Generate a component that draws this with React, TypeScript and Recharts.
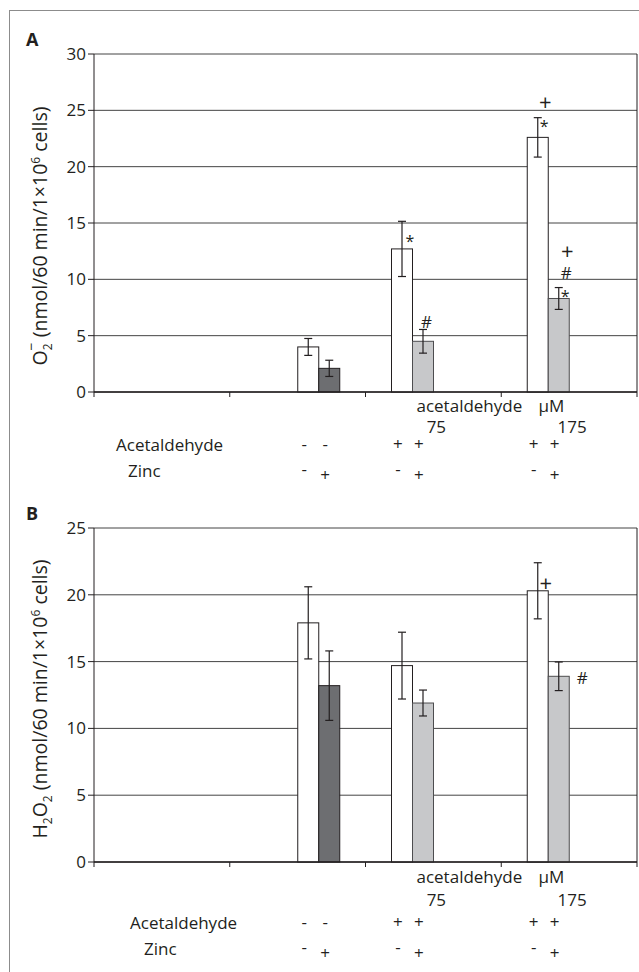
import React from 'react'
import { BarChart, Bar, XAxis, YAxis, CartesianGrid, ErrorBar, Label } from 'recharts'

// x slots: first slot is empty, then control, 75 µM and 175 µM acetaldehyde
const groupPos = [0.5, 1.5, 2.5, 3.5]
const concLabels = ['', '', '75', '175']
const acetSigns = [[], ['-', '-'], ['+', '+'], ['+', '+']]
const zincSigns = [[], ['-', '+'], ['-', '+'], ['-', '+']]
const rowNames = ['Acetaldehyde', 'Zinc']
const unitWord = 'acetaldehyde'
const unitSymbol = 'μM'

// A: superoxide
const o2Plain = [null, 4.0, 12.7, 22.6]
const o2PlainErr = [null, 0.75, 2.45, 1.75]
const o2Zinc = [null, 2.1, 4.5, 8.3]
const o2ZincErr = [null, 0.72, 1.05, 0.97]
const o2PlainMarks = [[], [], ['*'], ['+', '*']]
const o2ZincMarks = [[], [], ['#'], ['+', '#', '*']]
const o2Ticks = [0, 5, 10, 15, 20, 25, 30]

// B: hydrogen peroxide
const h2o2Plain = [null, 17.9, 14.7, 20.3]
const h2o2PlainErr = [null, 2.7, 2.5, 2.1]
const h2o2Zinc = [null, 13.2, 11.9, 13.9]
const h2o2ZincErr = [null, 2.6, 0.97, 1.07]
const h2o2PlainMarks = [[], [], [], ['+']]
const h2o2ZincMarks = [[], [], [], ['#']]
const h2o2Ticks = [0, 5, 10, 15, 20, 25]

const FONT = '"Open Sans", sans-serif'
const INK = '#231f20'
const PLOT_LEFT = 94
const PLOT_RIGHT = 637
const HALF_BAND = (PLOT_RIGHT - PLOT_LEFT) / 8
const BAR = 21
// bar centre offsets inside one slot (4 bars, no gap)
const barOffsets = [-1.5 * BAR, -0.5 * BAR, 0.5 * BAR, 1.5 * BAR]

// where the significance marks sit, relative to the top centre of their bar
const o2MarkPlace: Record<string, number[][]> = {
  'plain-2': [[8, -11]],
  'plain-3': [[7.5, -35], [6.5, -15]],
  'zinc-2': [[3.5, -19]],
  'zinc-3': [[8.5, -47], [7.5, -26], [6.5, -6]],
}
const h2o2MarkPlace: Record<string, number[][]> = {
  'plain-3': [[8, -8]],
  'zinc-3': [[23.5, 2]],
}

const buildRows = (plain: any[], plainErr: any[], zinc: any[], zincErr: any[]) =>
  groupPos.map((x, i) => {
    const ctrl = acetSigns[i][0] === '-'
    return {
      x,
      acet: ctrl ? null : plain[i],
      acetErr: ctrl ? null : plainErr[i],
      acetZn: ctrl ? null : zinc[i],
      acetZnErr: ctrl ? null : zincErr[i],
      ctrl: ctrl ? plain[i] : null,
      ctrlErr: ctrl ? plainErr[i] : null,
      ctrlZn: ctrl ? zinc[i] : null,
      ctrlZnErr: ctrl ? zincErr[i] : null,
    }
  })

// bar rectangle plus its significance marks (*, #, +)
const barShape = (kind: string, marks: string[][], place: Record<string, number[][]>) => (p: any) => {
  const { x, y, width, height, fill, stroke, payload } = p
  if (!height || !width) return <g />
  const idx = groupPos.indexOf(payload?.x)
  const list = marks[idx] || []
  const off = place[`${kind}-${idx}`] || []
  const cx = x + width / 2
  return (
    <g>
      <rect x={x} y={y} width={width} height={height} fill={fill} stroke={stroke} strokeWidth={1} />
      {list.map((m, k) => {
        const [dx, dy] = off[k] || [6, -10 - 20 * k]
        const fs = m === '+' ? 22 : m === '*' ? 16 : 17
        const shift = m === '*' ? 0.58 * fs : 0.36 * fs
        return (
          <text key={k} x={cx + dx} y={y + dy + shift} textAnchor="middle" fontSize={fs} fill={INK} fontFamily={FONT}>
            {m}
          </text>
        )
      })}
    </g>
  )
}

interface AxisLayout {
  unitDy: number
  concDy: number
  acetDy: number
  zincDy: number
  acetX: number
  zincX: number
}

const makeTick = (lay: AxisLayout) => (props: any) => {
  const { x, y, payload } = props
  const i = Math.round(payload.value)
  if (i >= groupPos.length) return <g />
  const axisY = y - 5
  const cx = x + HALF_BAND
  const ctrl = acetSigns[i][0] === '-'
  const centres = ctrl ? [barOffsets[2], barOffsets[3]] : [barOffsets[0], barOffsets[1]]
  const txt = { fontFamily: FONT, fill: INK }
  return (
    <g>
      {i === 0 && (
        <>
          <text x={x + lay.acetX} y={axisY + lay.acetDy} fontSize={17} {...txt}>{rowNames[0]}</text>
          <text x={x + lay.zincX} y={axisY + lay.zincDy} fontSize={17} {...txt}>{rowNames[1]}</text>
        </>
      )}
      {i === 2 && (
        <>
          <text x={cx + 36} y={axisY + lay.unitDy} fontSize={17} textAnchor="middle" {...txt}>{unitWord}</text>
          <text x={cx + 118} y={axisY + lay.unitDy} fontSize={17} textAnchor="middle" {...txt}>{unitSymbol}</text>
        </>
      )}
      {concLabels[i] && (
        <text x={cx + 3} y={axisY + lay.concDy} fontSize={17} textAnchor="middle" {...txt}>{concLabels[i]}</text>
      )}
      {acetSigns[i].map((s, k) => (
        <text key={`a${k}`} x={cx + centres[k] - 4} y={axisY + lay.acetDy - 1} fontSize={17} textAnchor="middle" {...txt}>{s}</text>
      ))}
      {zincSigns[i].map((s, k) => (
        <text key={`z${k}`} x={cx + centres[k] - 4} y={axisY + lay.zincDy + (s === '+' ? 4 : -2)} fontSize={17} textAnchor="middle" {...txt}>{s}</text>
      ))}
    </g>
  )
}

const YTitle = ({ viewBox, shiftY, children }: any) => {
  const cx = 47
  const cy = viewBox.y + viewBox.height / 2 + shiftY
  return (
    <text transform={`rotate(-90 ${cx} ${cy})`} x={cx} y={cy} textAnchor="middle" fontSize={19.5} fill={INK} fontFamily={FONT}>
      {children}
    </text>
  )
}

const o2Title = (
  <>
    <tspan>O</tspan>
    <tspan dy={5} fontSize={12}>2</tspan>
    <tspan dx={-7} dy={-16} fontSize={14}>−</tspan>
    <tspan dy={11}> (nmol/60 min/1×10</tspan>
    <tspan dy={-7} fontSize={12}>6</tspan>
    <tspan dy={7}> cells)</tspan>
  </>
)

const h2o2Title = (
  <>
    <tspan>H</tspan>
    <tspan dy={5} fontSize={12}>2</tspan>
    <tspan dy={-5}>O</tspan>
    <tspan dy={5} fontSize={12}>2</tspan>
    <tspan dy={-5}> (nmol/60 min/1×10</tspan>
    <tspan dy={-7} fontSize={12}>6</tspan>
    <tspan dy={7}> cells)</tspan>
  </>
)

function Panel(props: {
  top: number
  height: number
  marginTop: number
  axisHeight: number
  rows: any[]
  yTicks: number[]
  plainMarks: string[][]
  zincMarks: string[][]
  place: Record<string, number[][]>
  lay: AxisLayout
  title: React.ReactNode
  titleShift: number
}) {
  const { top, height, marginTop, axisHeight, rows, yTicks, plainMarks, zincMarks, place, lay, title, titleShift } = props
  const yMax = yTicks[yTicks.length - 1]
  return (
    <div style={{ position: 'absolute', left: 0, top }}>
      <BarChart
        width={639}
        height={height}
        data={rows}
        margin={{ top: marginTop, right: 1, left: 44, bottom: 0 }}
        barSize={BAR}
        barGap={0}
      >
        <CartesianGrid vertical={false} stroke="#444" strokeWidth={1} />
        <XAxis
          dataKey="x"
          type="number"
          domain={[0, 4]}
          ticks={[0, 1, 2, 3, 4]}
          interval={0}
          height={axisHeight}
          tickSize={5}
          tickMargin={0}
          axisLine={{ stroke: INK, strokeWidth: 1.5 }}
          tickLine={{ stroke: INK }}
          tick={makeTick(lay)}
        />
        <YAxis
          width={50}
          domain={[0, yMax]}
          ticks={yTicks}
          interval={0}
          tickSize={6}
          axisLine={{ stroke: INK }}
          tickLine={{ stroke: INK }}
          tick={{ fontSize: 17, fill: INK, fontFamily: FONT }}
        >
          <Label content={<YTitle shiftY={titleShift}>{title}</YTitle>} />
        </YAxis>
        <YAxis
          yAxisId="right"
          orientation="right"
          width={1}
          domain={[0, yMax]}
          tick={false}
          tickLine={false}
          axisLine={{ stroke: INK }}
        />
        <Bar dataKey="acet" fill="#ffffff" stroke={INK} isAnimationActive={false} shape={barShape('plain', plainMarks, place)}>
          <ErrorBar dataKey="acetErr" width={4} stroke={INK} strokeWidth={1.2} direction="y" />
        </Bar>
        <Bar dataKey="acetZn" fill="#c7c8ca" stroke="#4d4d4f" isAnimationActive={false} shape={barShape('zinc', zincMarks, place)}>
          <ErrorBar dataKey="acetZnErr" width={4} stroke={INK} strokeWidth={1.2} direction="y" />
        </Bar>
        <Bar dataKey="ctrl" fill="#ffffff" stroke={INK} isAnimationActive={false} shape={barShape('plain', plainMarks, place)}>
          <ErrorBar dataKey="ctrlErr" width={4} stroke={INK} strokeWidth={1.2} direction="y" />
        </Bar>
        <Bar dataKey="ctrlZn" fill="#6d6e71" stroke={INK} isAnimationActive={false} shape={barShape('zinc', zincMarks, place)}>
          <ErrorBar dataKey="ctrlZnErr" width={4} stroke={INK} strokeWidth={1.2} direction="y" />
        </Bar>
      </BarChart>
    </div>
  )
}

export default function App() {
  const panelLetter = { position: 'absolute' as const, left: 26, fontFamily: FONT, fontWeight: 700, fontSize: 18, lineHeight: '18px', color: INK }
  return (
    <div style={{ position: 'absolute', left: 0, top: 0, width: 639, height: 972, background: '#fff', overflow: 'hidden' }}>
      <div style={{ position: 'absolute', left: 9, top: 10, width: 650, height: 990, borderTop: '1.5px solid #8c8c8c', borderLeft: '1.5px solid #8c8c8c' }} />
      <Panel
        top={0}
        height={486}
        marginTop={54}
        axisHeight={94}
        rows={buildRows(o2Plain, o2PlainErr, o2Zinc, o2ZincErr)}
        yTicks={o2Ticks}
        plainMarks={o2PlainMarks}
        zincMarks={o2ZincMarks}
        place={o2MarkPlace}
        lay={{ unitDy: 20, concDy: 41, acetDy: 59, zincDy: 84.5, acetX: 22, zincX: 34 }}
        title={o2Title}
        titleShift={13}
      />
      <Panel
        top={486}
        height={486}
        marginTop={42}
        axisHeight={110}
        rows={buildRows(h2o2Plain, h2o2PlainErr, h2o2Zinc, h2o2ZincErr)}
        yTicks={h2o2Ticks}
        plainMarks={h2o2PlainMarks}
        zincMarks={h2o2ZincMarks}
        place={h2o2MarkPlace}
        lay={{ unitDy: 21, concDy: 44, acetDy: 67, zincDy: 93, acetX: 36, zincX: 50 }}
        title={h2o2Title}
        titleShift={4}
      />
      <div style={{ ...panelLetter, top: 30 }}>A</div>
      <div style={{ ...panelLetter, top: 504 }}>B</div>
    </div>
  )
}
